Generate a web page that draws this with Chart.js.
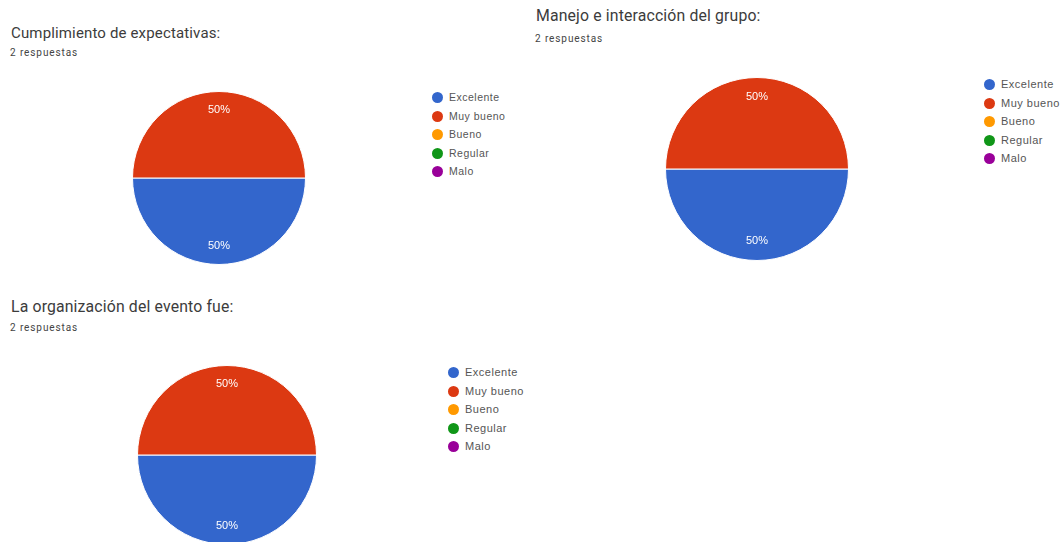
<!DOCTYPE html>
<html>
<head>
<meta charset="utf-8">
<script src="https://cdn.jsdelivr.net/npm/chart.js@4/dist/chart.umd.min.js"></script>
<style>
  html, body { margin: 0; padding: 0; background: #fff; }
  body { width: 1064px; height: 542px; position: relative; overflow: hidden; font-family: Roboto, "Liberation Sans", Arial, sans-serif; }
  .title { position: absolute; font-size: 15px; line-height: 15px; letter-spacing: 0.15px; color: #3c3c3c; white-space: nowrap; }
  .title.big { font-size: 15.8px; line-height: 16px; }
  .sub { position: absolute; font-size: 10px; line-height: 10px; letter-spacing: 0.9px; color: #444; white-space: nowrap; }
  .pie { position: absolute; }
  .legend { position: absolute; font-family: "Liberation Sans", Arial, sans-serif; font-size: 10.5px; letter-spacing: 0.5px; color: #555; }
  .legend.big { font-size: 11px; }
  .legend div { position: relative; height: 18.5px; line-height: 11px; padding-left: 17px; white-space: nowrap; }
  .legend span.dot { position: absolute; left: 0; top: 0; width: 11px; height: 11px; border-radius: 50%; }
</style>
</head>
<body>
<div class="title" style="left:11px;top:26px;" id="t1"></div>
<div class="sub" style="left:10px;top:48px;" id="s1"></div>
<div class="pie" style="left:132px;top:91px;width:174px;height:174px;"><canvas id="c1"></canvas></div>
<div class="legend" style="left:432px;top:92px;" id="l1"></div>

<div class="title big" style="left:536px;top:8px;" id="t2"></div>
<div class="sub" style="left:535px;top:34px;" id="s2"></div>
<div class="pie" style="left:665px;top:77px;width:184px;height:184px;"><canvas id="c2"></canvas></div>
<div class="legend big" style="left:984px;top:79px;" id="l2"></div>

<div class="title big" style="left:11px;top:299px;" id="t3"></div>
<div class="sub" style="left:10px;top:323px;" id="s3"></div>
<div class="pie" style="left:137px;top:365px;width:180px;height:180px;"><canvas id="c3"></canvas></div>
<div class="legend big" style="left:448px;top:367px;" id="l3"></div>

<script>
const categories = ["Excelente", "Muy bueno", "Bueno", "Regular", "Malo"];
const colors = ["#3366cc", "#dc3912", "#ff9900", "#109618", "#990099"];
const titles = ["Cumplimiento de expectativas:", "Manejo e interacción del grupo:", "La organización del evento fue:"];
const subtitles = ["2 respuestas", "2 respuestas", "2 respuestas"];
const valuesExpectativas = [1, 1, 0, 0, 0];
const valuesManejo = [1, 1, 0, 0, 0];
const valuesOrganizacion = [1, 1, 0, 0, 0];

const pctLabels = {
  id: 'pctLabels',
  afterDatasetsDraw(chart) {
    const ctx = chart.ctx;
    const ds = chart.data.datasets[0];
    const total = ds.data.reduce((a, b) => a + b, 0);
    const meta = chart.getDatasetMeta(0);
    ctx.save();
    ctx.fillStyle = '#ffffff';
    ctx.font = '11px "Liberation Sans", Arial, sans-serif';
    ctx.textAlign = 'center';
    ctx.textBaseline = 'middle';
    meta.data.forEach((arc, i) => {
      const v = ds.data[i];
      if (!v) return;
      const p = arc.getProps(['x', 'y', 'startAngle', 'endAngle', 'outerRadius'], true);
      const mid = (p.startAngle + p.endAngle) / 2;
      const r = p.outerRadius * 0.79;
      const txt = Math.round(v / total * 100) + '%';
      ctx.fillText(txt, p.x + Math.cos(mid) * r, p.y + Math.sin(mid) * r);
    });
    ctx.restore();
  }
};

function makePie(id, values) {
  new Chart(document.getElementById(id), {
    type: 'pie',
    data: {
      labels: categories,
      datasets: [{ data: values, backgroundColor: colors, borderColor: '#ffffff', borderWidth: 1 }]
    },
    options: {
      responsive: true,
      maintainAspectRatio: false,
      animation: false,
      rotation: 90,
      layout: { padding: 0 },
      plugins: { legend: { display: false }, tooltip: { enabled: false } }
    },
    plugins: [pctLabels]
  });
}

function makeLegend(id) {
  const el = document.getElementById(id);
  categories.forEach((c, i) => {
    const d = document.createElement('div');
    const s = document.createElement('span');
    s.className = 'dot';
    s.style.background = colors[i];
    d.appendChild(s);
    d.appendChild(document.createTextNode(c));
    el.appendChild(d);
  });
}

[["t1","s1"],["t2","s2"],["t3","s3"]].forEach((ids, i) => {
  document.getElementById(ids[0]).textContent = titles[i];
  document.getElementById(ids[1]).textContent = subtitles[i];
});

makePie('c1', valuesExpectativas);
makePie('c2', valuesManejo);
makePie('c3', valuesOrganizacion);
makeLegend('l1');
makeLegend('l2');
makeLegend('l3');
</script>
</body>
</html>
